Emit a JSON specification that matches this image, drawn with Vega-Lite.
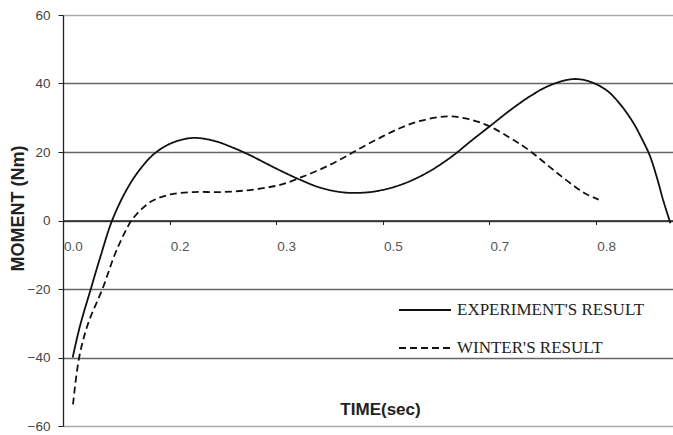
{
  "$schema": "https://vega.github.io/schema/vega-lite/v6.json",
  "width": 610,
  "height": 411,
  "autosize": "none",
  "padding": {"left": 63, "top": 15, "right": 0, "bottom": 9},
  "background": "white",
  "config": {"view": {"stroke": null}},
  "data": {
    "values": [
      {"series": "EXPERIMENT'S RESULT", "t": 0.015, "m": -40},
      {"series": "EXPERIMENT'S RESULT", "t": 0.026, "m": -31},
      {"series": "EXPERIMENT'S RESULT", "t": 0.043, "m": -20},
      {"series": "EXPERIMENT'S RESULT", "t": 0.058, "m": -10.5},
      {"series": "EXPERIMENT'S RESULT", "t": 0.076, "m": 0},
      {"series": "EXPERIMENT'S RESULT", "t": 0.0985, "m": 9},
      {"series": "EXPERIMENT'S RESULT", "t": 0.119, "m": 14.9},
      {"series": "EXPERIMENT'S RESULT", "t": 0.142, "m": 19.6},
      {"series": "EXPERIMENT'S RESULT", "t": 0.168, "m": 22.6},
      {"series": "EXPERIMENT'S RESULT", "t": 0.2, "m": 24.1},
      {"series": "EXPERIMENT'S RESULT", "t": 0.233, "m": 23.3},
      {"series": "EXPERIMENT'S RESULT", "t": 0.264, "m": 21.2},
      {"series": "EXPERIMENT'S RESULT", "t": 0.289, "m": 19.1},
      {"series": "EXPERIMENT'S RESULT", "t": 0.315, "m": 16.6},
      {"series": "EXPERIMENT'S RESULT", "t": 0.336, "m": 14.6},
      {"series": "EXPERIMENT'S RESULT", "t": 0.367, "m": 11.9},
      {"series": "EXPERIMENT'S RESULT", "t": 0.398, "m": 9.6},
      {"series": "EXPERIMENT'S RESULT", "t": 0.434, "m": 8.2},
      {"series": "EXPERIMENT'S RESULT", "t": 0.47, "m": 8.2},
      {"series": "EXPERIMENT'S RESULT", "t": 0.501, "m": 9.2},
      {"series": "EXPERIMENT'S RESULT", "t": 0.532, "m": 11.1},
      {"series": "EXPERIMENT'S RESULT", "t": 0.563, "m": 13.9},
      {"series": "EXPERIMENT'S RESULT", "t": 0.586, "m": 16.6},
      {"series": "EXPERIMENT'S RESULT", "t": 0.606, "m": 19.3},
      {"series": "EXPERIMENT'S RESULT", "t": 0.63, "m": 23.0},
      {"series": "EXPERIMENT'S RESULT", "t": 0.661, "m": 27.6},
      {"series": "EXPERIMENT'S RESULT", "t": 0.692, "m": 32.2},
      {"series": "EXPERIMENT'S RESULT", "t": 0.723, "m": 36.3},
      {"series": "EXPERIMENT'S RESULT", "t": 0.754, "m": 39.5},
      {"series": "EXPERIMENT'S RESULT", "t": 0.79, "m": 41.3},
      {"series": "EXPERIMENT'S RESULT", "t": 0.816, "m": 40.5},
      {"series": "EXPERIMENT'S RESULT", "t": 0.842, "m": 37.9},
      {"series": "EXPERIMENT'S RESULT", "t": 0.862, "m": 34.0},
      {"series": "EXPERIMENT'S RESULT", "t": 0.882, "m": 28.7},
      {"series": "EXPERIMENT'S RESULT", "t": 0.896, "m": 23.8},
      {"series": "EXPERIMENT'S RESULT", "t": 0.908, "m": 19.0},
      {"series": "EXPERIMENT'S RESULT", "t": 0.919, "m": 12.6},
      {"series": "EXPERIMENT'S RESULT", "t": 0.929, "m": 5.8},
      {"series": "EXPERIMENT'S RESULT", "t": 0.94, "m": -0.8},
      {"series": "WINTER'S RESULT", "t": 0.0155, "m": -53.7},
      {"series": "WINTER'S RESULT", "t": 0.025, "m": -40},
      {"series": "WINTER'S RESULT", "t": 0.039, "m": -30},
      {"series": "WINTER'S RESULT", "t": 0.061, "m": -20},
      {"series": "WINTER'S RESULT", "t": 0.08, "m": -10},
      {"series": "WINTER'S RESULT", "t": 0.093, "m": -4.5},
      {"series": "WINTER'S RESULT", "t": 0.106, "m": 0},
      {"series": "WINTER'S RESULT", "t": 0.122, "m": 3.4},
      {"series": "WINTER'S RESULT", "t": 0.14, "m": 5.9},
      {"series": "WINTER'S RESULT", "t": 0.166, "m": 7.6},
      {"series": "WINTER'S RESULT", "t": 0.202, "m": 8.3},
      {"series": "WINTER'S RESULT", "t": 0.243, "m": 8.3},
      {"series": "WINTER'S RESULT", "t": 0.279, "m": 8.7},
      {"series": "WINTER'S RESULT", "t": 0.315, "m": 9.6},
      {"series": "WINTER'S RESULT", "t": 0.34, "m": 10.6},
      {"series": "WINTER'S RESULT", "t": 0.367, "m": 12.5},
      {"series": "WINTER'S RESULT", "t": 0.398, "m": 14.9},
      {"series": "WINTER'S RESULT", "t": 0.429, "m": 17.8},
      {"series": "WINTER'S RESULT", "t": 0.46, "m": 21.1},
      {"series": "WINTER'S RESULT", "t": 0.491, "m": 24.2},
      {"series": "WINTER'S RESULT", "t": 0.522, "m": 27.0},
      {"series": "WINTER'S RESULT", "t": 0.553, "m": 29.1},
      {"series": "WINTER'S RESULT", "t": 0.594, "m": 30.4},
      {"series": "WINTER'S RESULT", "t": 0.628, "m": 29.6},
      {"series": "WINTER'S RESULT", "t": 0.661, "m": 27.4},
      {"series": "WINTER'S RESULT", "t": 0.692, "m": 24.1},
      {"series": "WINTER'S RESULT", "t": 0.713, "m": 21.6},
      {"series": "WINTER'S RESULT", "t": 0.733, "m": 18.8},
      {"series": "WINTER'S RESULT", "t": 0.754, "m": 15.5},
      {"series": "WINTER'S RESULT", "t": 0.774, "m": 12.5},
      {"series": "WINTER'S RESULT", "t": 0.795, "m": 9.5},
      {"series": "WINTER'S RESULT", "t": 0.811, "m": 7.6},
      {"series": "WINTER'S RESULT", "t": 0.829, "m": 6.1}
    ]
  },
  "mark": {"type": "line", "interpolate": "catmull-rom", "strokeWidth": 1.8, "color": "#111", "clip": true},
  "encoding": {
    "x": {
      "field": "t",
      "type": "quantitative",
      "scale": {"domain": [0, 0.944], "nice": false, "zero": false},
      "axis": {
        "orient": "bottom",
        "offset": -205.5,
        "values": [0, 0.165, 0.33, 0.495, 0.66, 0.825],
        "format": ".1f",
        "grid": false,
        "domainColor": "#222",
        "domainWidth": 1.5,
        "tickColor": "#222",
        "tickSize": 4,
        "labelOffset": 10,
        "labelPadding": 15,
        "labelFlush": false,
        "labelOverlap": false,
        "labelFont": "Liberation Sans",
        "labelFontSize": 13.5,
        "labelColor": "#555",
        "title": "TIME(sec)",
        "titleX": 317,
        "titleY": 194,
        "titleAnchor": null,
        "titleAlign": "center",
        "titleBaseline": "alphabetic",
        "titleFont": "Liberation Sans",
        "titleFontSize": 17,
        "titleFontWeight": "bold",
        "titleColor": "#222"
      }
    },
    "y": {
      "field": "m",
      "type": "quantitative",
      "scale": {"domain": [-60, 60], "nice": false},
      "axis": {
        "values": [-60, -40, -20, 0, 20, 40, 60],
        "grid": true,
        "gridColor": {"condition": {"test": "datum.value === 60 || datum.value === -60", "value": "#aaa"}, "value": "#666"},
        "gridWidth": 1.3,
        "domainColor": "#222",
        "domainWidth": 1.3,
        "tickColor": "#222",
        "tickSize": 5,
        "labelPadding": 8,
        "labelFont": "Liberation Sans",
        "labelFontSize": 13.5,
        "labelColor": "#444",
        "title": "MOMENT (Nm)",
        "titleX": -45,
        "titleY": 193,
        "titleAngle": 270,
        "titleAlign": "center",
        "titleBaseline": "middle",
        "titleFont": "Liberation Sans",
        "titleFontSize": 18,
        "titleFontWeight": "bold",
        "titleColor": "#222"
      }
    },
    "strokeDash": {
      "field": "series",
      "type": "nominal",
      "scale": {"domain": ["EXPERIMENT'S RESULT", "WINTER'S RESULT"], "range": [[1, 0], [7, 4]]},
      "legend": {
        "orient": "none",
        "legendX": 335,
        "legendY": 268,
        "title": null,
        "padding": 0,
        "symbolType": "stroke",
        "symbolSize": 2700,
        "symbolStrokeColor": "#111",
        "symbolStrokeWidth": 1.8,
        "labelFont": "Liberation Serif",
        "labelFontSize": 17,
        "labelColor": "#222",
        "labelOffset": 5,
        "labelLimit": 0,
        "rowPadding": 3
      }
    }
  }
}
